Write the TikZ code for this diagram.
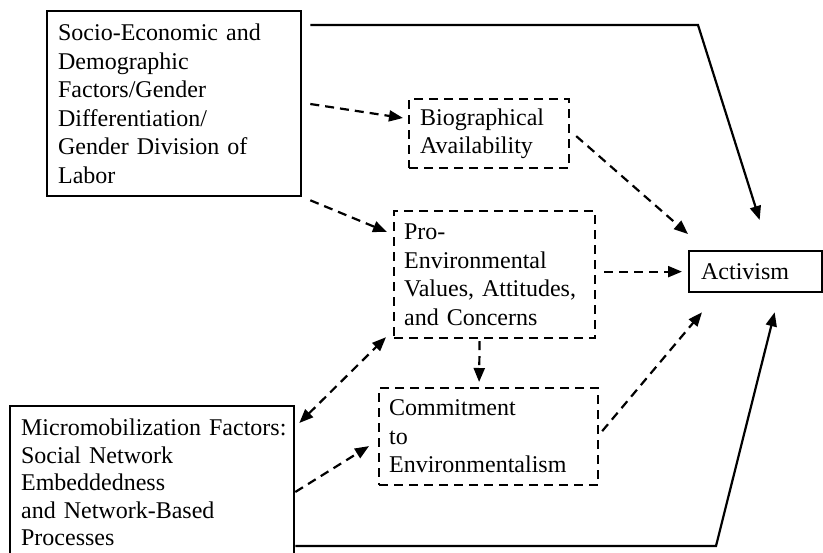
\documentclass[tikz,border=0pt]{standalone}
\usepackage{fontspec}
\setmainfont{Liberation Serif}
\usetikzlibrary{arrows.meta,calc}

\begin{document}
\begin{tikzpicture}[
    x=1pt, y=-1pt,
    font=\fontsize{24}{28.5}\selectfont,
    % Boxes: solid for the two factor groups and the outcome, dashed for the mediators.
    box/.style={
        draw=black,
        line width=2.3pt,
        anchor=north west,
        align=left,
        inner xsep=11pt,
        inner ysep=0pt
    },
    dashbox/.style={
        box,
        line width=2.2pt,
        dash pattern=on 9pt off 6pt
    },
    arrow/.style={-{Triangle[length=14pt,width=11pt]}, line width=2.2pt},
    dasharrow/.style={arrow, dash pattern=on 9pt off 6pt},
    twoarrow/.style={dasharrow, {Triangle[length=14pt,width=11pt]}-{Triangle[length=14pt,width=11pt]}}
]
    \clip (0,0) rectangle (823,553);

    \node[box, text width=232pt, minimum width=254pt, minimum height=185pt] (socio) at (46,10)
        {Socio-Economic and\\Demographic\\Factors/Gender\\Differentiation/\\Gender Division of\\Labor};
    \node[dashbox, text width=138pt, minimum width=160pt, minimum height=69pt] (bio) at (408,98)
        {Biographical\\Availability};
    \node[dashbox, inner xsep=10pt, text width=181pt, minimum width=201pt, minimum height=127pt] (pro) at (393,210)
        {Pro-\\Environmental\\Values, Attitudes,\\and Concerns};
    \node[box, inner xsep=12pt, text width=109pt, minimum width=133pt, minimum height=41pt] (act) at (688,250)
        {Activism};
    \node[dashbox, inner xsep=10pt, text width=199pt, minimum width=219pt, minimum height=97pt] (commit) at (378,387)
        {Commitment\\to\\Environmentalism};
    % the lower box runs past the bottom edge of the figure
    \node[box, font=\fontsize{24}{27.5}\selectfont, text width=262pt, minimum width=284pt, minimum height=153pt] (micro) at (9,405)
        {\mbox{Micromobilization Factors:}\\Social Network\\Embeddedness\\and Network-Based\\Processes};

    % Direct paths from the two factor groups to activism.
    \coordinate (topbend) at (698,25);
    \coordinate (lowbend) at (716,546);
    \draw[arrow] ($(socio.north east)+(8,15)$) -- (topbend) -- ($(act.north)+(4,-30)$);
    \draw[arrow] ($(micro.north east)+(0,141)$) -- (lowbend) -- ($(act.south)+(19,19)$);

    \draw[dasharrow] ($(socio.north east)+(8,94)$) -- ($(bio.north west)+(-5,20)$);
    \draw[dasharrow] ($(socio.south east)+(8,3)$) -- ($(pro.north west)+(-6,22)$);
    \draw[dasharrow] ($(bio.east)+(6,2.5)$) -- ($(act.north west)+(0,-16)$);
    \draw[dasharrow] ($(pro.east |- act.west)+(8,0)$) -- ($(act.west)+(-6,0)$);
    \draw[dasharrow] ($(pro.south)+(-15,2)$) -- ($(commit.north)+(-9.5,-5)$);
    \draw[twoarrow] ($(micro.north east)+(4,18)$) -- ($(pro.south west)+(-7,-2)$);
    \draw[dasharrow] ($(micro.north east)+(0,87)$) -- ($(commit.west)+(-9,9.5)$);
    \draw[dasharrow] ($(commit.east)+(3,-5.5)$) -- ($(act.south west)+(14,19)$);
\end{tikzpicture}
\end{document}
